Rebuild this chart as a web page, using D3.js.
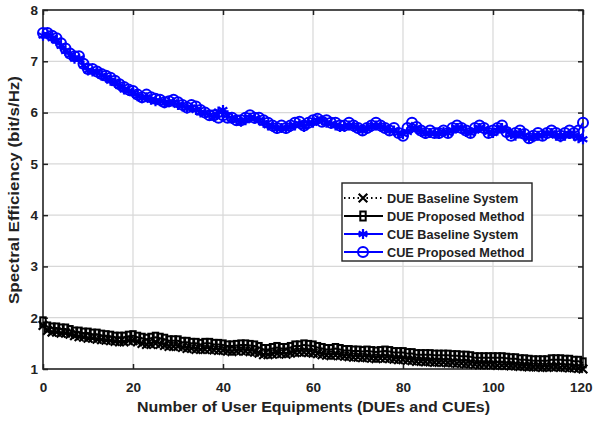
<!DOCTYPE html>
<html>
<head>
<meta charset="utf-8">
<script src="https://cdn.jsdelivr.net/npm/d3@7"></script>
<style>
  body { margin: 0; background: #fff; }
  text { font-family: "Liberation Sans", Arial, sans-serif; font-weight: bold; fill: #222; }
</style>
</head>
<body>
<div id="chart"></div>
<script>
// x values: number of UEs 0..120
const ueCounts = d3.range(0, 121);

const cueProposed = [
  7.55,7.55,7.5,7.45,7.35,7.25,7.15,7.1,7.1,6.95,
  6.85,6.85,6.8,6.75,6.72,6.68,6.62,6.55,6.5,6.45,
  6.42,6.35,6.3,6.35,6.3,6.27,6.25,6.2,6.22,6.25,
  6.2,6.15,6.1,6.15,6.12,6.05,6.0,5.95,5.95,5.9,
  5.95,5.9,5.9,5.85,5.85,5.9,5.95,5.9,5.9,5.85,
  5.8,5.75,5.7,5.75,5.7,5.75,5.8,5.82,5.75,5.8,
  5.85,5.88,5.82,5.85,5.8,5.8,5.75,5.75,5.8,5.75,
  5.7,5.65,5.7,5.75,5.8,5.75,5.7,5.65,5.7,5.6,
  5.55,5.7,5.8,5.72,5.65,5.6,5.65,5.6,5.6,5.65,
  5.6,5.7,5.75,5.7,5.65,5.6,5.7,5.75,5.7,5.6,
  5.65,5.7,5.75,5.62,5.55,5.6,5.65,5.58,5.5,5.55,
  5.6,5.55,5.6,5.65,5.6,5.55,5.6,5.65,5.6,5.65,
  5.8
];

const cueBaseline = [
  7.5,7.52,7.45,7.4,7.3,7.2,7.12,7.05,7.05,6.92,
  6.82,6.8,6.78,6.72,6.68,6.62,6.58,6.52,6.45,6.42,
  6.38,6.32,6.28,6.3,6.25,6.22,6.22,6.18,6.2,6.2,
  6.15,6.12,6.08,6.1,6.05,6.0,5.98,5.95,5.92,6.02,
  6.05,5.95,5.88,5.85,5.82,5.85,5.9,5.88,5.85,5.8,
  5.75,5.72,5.68,5.7,5.68,5.72,5.75,5.78,5.72,5.78,
  5.8,5.85,5.85,5.8,5.78,5.75,5.72,5.72,5.75,5.72,
  5.68,5.65,5.68,5.72,5.75,5.72,5.68,5.65,5.65,5.6,
  5.58,5.62,5.7,5.68,5.62,5.58,5.6,5.6,5.58,5.62,
  5.6,5.65,5.7,5.68,5.62,5.6,5.65,5.7,5.68,5.62,
  5.6,5.65,5.7,5.65,5.58,5.55,5.6,5.55,5.5,5.52,
  5.55,5.55,5.58,5.6,5.55,5.52,5.55,5.58,5.55,5.5,
  5.48
];

const dueProposed = [
  1.92,1.82,1.8,1.8,1.78,1.78,1.75,1.72,1.72,1.7,
  1.7,1.68,1.68,1.66,1.65,1.64,1.62,1.62,1.62,1.64,
  1.65,1.62,1.6,1.58,1.6,1.62,1.6,1.58,1.55,1.55,
  1.55,1.52,1.52,1.5,1.5,1.48,1.5,1.5,1.48,1.48,
  1.47,1.45,1.45,1.46,1.47,1.47,1.46,1.45,1.42,1.38,
  1.38,1.4,1.42,1.4,1.4,1.42,1.45,1.45,1.47,1.46,
  1.45,1.42,1.4,1.38,1.38,1.4,1.38,1.36,1.36,1.35,
  1.35,1.34,1.35,1.34,1.33,1.34,1.35,1.34,1.32,1.32,
  1.32,1.3,1.3,1.28,1.28,1.28,1.28,1.27,1.27,1.27,
  1.27,1.26,1.26,1.25,1.25,1.24,1.22,1.22,1.22,1.22,
  1.22,1.22,1.22,1.21,1.2,1.2,1.18,1.18,1.17,1.16,
  1.16,1.16,1.16,1.18,1.18,1.18,1.17,1.17,1.15,1.15,
  1.12
];

const dueBaseline = [
  1.85,1.75,1.72,1.72,1.7,1.7,1.68,1.65,1.63,1.62,
  1.6,1.6,1.58,1.57,1.56,1.55,1.54,1.53,1.53,1.55,
  1.55,1.53,1.5,1.48,1.48,1.5,1.48,1.46,1.44,1.44,
  1.44,1.42,1.4,1.4,1.38,1.38,1.38,1.38,1.37,1.36,
  1.36,1.35,1.34,1.35,1.36,1.35,1.34,1.33,1.31,1.28,
  1.28,1.29,1.3,1.3,1.29,1.31,1.32,1.33,1.33,1.32,
  1.31,1.3,1.28,1.27,1.26,1.27,1.26,1.25,1.24,1.23,
  1.23,1.22,1.22,1.21,1.2,1.21,1.21,1.2,1.19,1.18,
  1.18,1.17,1.16,1.15,1.15,1.14,1.14,1.13,1.13,1.13,
  1.12,1.12,1.11,1.11,1.1,1.1,1.09,1.08,1.08,1.08,
  1.08,1.07,1.07,1.07,1.06,1.06,1.05,1.05,1.04,1.04,
  1.04,1.03,1.03,1.04,1.04,1.03,1.03,1.02,1.02,1.01,
  1.0
];

const xTicks = [0, 20, 40, 60, 80, 100, 120];
const yTicks = [1, 2, 3, 4, 5, 6, 7, 8];

const seriesNames = ["DUE Baseline System", "DUE Proposed Method", "CUE Baseline System", "CUE Proposed Method"];

const series = [
  {name: seriesNames[0], values: dueBaseline, color: "#000", dash: "1.5,3", marker: "x"},
  {name: seriesNames[1], values: dueProposed, color: "#000", dash: null, marker: "square"},
  {name: seriesNames[2], values: cueBaseline, color: "#0000ff", dash: null, marker: "star"},
  {name: seriesNames[3], values: cueProposed, color: "#0000ff", dash: null, marker: "circle"}
];

const size = {width: 593, height: 423};
const margin = {top: 10, right: 10, bottom: 54, left: 43};
const width = size.width - margin.left - margin.right;
const height = size.height - margin.top - margin.bottom;

const svg = d3.select("#chart").append("svg")
  .attr("width", size.width)
  .attr("height", size.height);

const g = svg.append("g")
  .attr("transform", "translate(" + margin.left + "," + margin.top + ")");

const xScale = d3.scaleLinear().domain([0, 120]).range([0, width]);
const yScale = d3.scaleLinear().domain([1, 8]).range([height, 0]);

// grid
g.append("g").selectAll("line").data(xTicks.slice(1, -1)).join("line")
  .attr("x1", d => xScale(d)).attr("x2", d => xScale(d))
  .attr("y1", 0).attr("y2", height)
  .attr("stroke", "#d8d8d8").attr("stroke-width", 1.2);
g.append("g").selectAll("line").data(yTicks.slice(1, -1)).join("line")
  .attr("x1", 0).attr("x2", width)
  .attr("y1", d => yScale(d)).attr("y2", d => yScale(d))
  .attr("stroke", "#d8d8d8").attr("stroke-width", 1.2);

// axes, ticks inside (matlab style box)
const tickLen = 5;
const axisStyle = (sel) => {
  sel.select(".domain").remove();
  sel.selectAll(".tick line").attr("stroke", "#222").attr("stroke-width", 1.5);
  sel.selectAll(".tick text")
    .style("font-size", "13.5px").style("font-weight", "bold")
    .style("font-family", "'Liberation Sans', Arial, sans-serif").attr("fill", "#222");
};

const xAxisG = g.append("g").attr("transform", "translate(0," + height + ")")
  .call(d3.axisBottom(xScale).tickValues(xTicks).tickFormat(d3.format("d"))
    .tickSizeInner(-tickLen).tickSizeOuter(0).tickPadding(13))
  .call(axisStyle);
// last label sits at the window edge, keep it inside
xAxisG.selectAll(".tick text").filter(d => d === 120)
  .attr("text-anchor", "end").attr("x", 9);

g.append("g")
  .call(d3.axisLeft(yScale).tickValues(yTicks).tickFormat(d3.format("d"))
    .tickSizeInner(-tickLen).tickSizeOuter(0).tickPadding(5))
  .call(axisStyle);
g.append("g")
  .call(d3.axisTop(xScale).tickValues(xTicks).tickSizeInner(-tickLen).tickSizeOuter(0).tickFormat(""))
  .call(axisStyle);
g.append("g").attr("transform", "translate(" + width + ",0)")
  .call(d3.axisRight(yScale).tickValues(yTicks).tickSizeInner(-tickLen).tickSizeOuter(0).tickFormat(""))
  .call(axisStyle);

g.append("rect")
  .attr("width", width).attr("height", height)
  .attr("fill", "none").attr("stroke", "#222").attr("stroke-width", 1.6);

// markers
const drawMarker = (sel, marker, color) => {
  if (marker === "circle") {
    sel.append("circle").attr("r", 5)
      .attr("fill", "none").attr("stroke", color).attr("stroke-width", 2);
  } else if (marker === "square") {
    sel.append("rect").attr("x", -2.7).attr("y", -4.5).attr("width", 5.4).attr("height", 9)
      .attr("fill", "none").attr("stroke", color).attr("stroke-width", 2);
  } else if (marker === "star") {
    sel.append("path").attr("d", d3.symbol().type(d3.symbolAsterisk).size(70)())
      .attr("fill", "none").attr("stroke", color).attr("stroke-width", 2.2);
  } else if (marker === "x") {
    sel.append("path").attr("d", d3.symbol().type(d3.symbolX).size(50)())
      .attr("fill", "none").attr("stroke", color).attr("stroke-width", 2.2);
  }
};

const line = d3.line()
  .x((d, i) => xScale(ueCounts[i]))
  .y(d => yScale(d));

const plotG = g.append("g");
series.forEach(s => {
  plotG.append("path")
    .datum(s.values)
    .attr("d", line)
    .attr("fill", "none")
    .attr("stroke", s.color)
    .attr("stroke-width", 2)
    .attr("stroke-dasharray", s.dash);

  plotG.append("g").selectAll("g")
    .data(s.values)
    .join("g")
    .attr("transform", (d, i) => "translate(" + xScale(ueCounts[i]) + "," + yScale(d) + ")")
    .each(function () { drawMarker(d3.select(this), s.marker, s.color); });
});

// legend
const legend = svg.append("g").attr("transform", "translate(342,183)");
legend.append("rect")
  .attr("width", 190).attr("height", 78)
  .attr("fill", "#fff").attr("stroke", "#222").attr("stroke-width", 1.4);
series.forEach((s, i) => {
  const row = legend.append("g").attr("transform", "translate(0," + (15 + i * 18) + ")");
  row.append("line")
    .attr("x1", 2).attr("x2", 41)
    .attr("stroke", s.color).attr("stroke-width", 2.2)
    .attr("stroke-dasharray", s.dash);
  drawMarker(row.append("g").attr("transform", "translate(21,0)"), s.marker, s.color);
  row.append("text")
    .attr("x", 45).attr("dy", "0.36em")
    .style("font-size", "12.7px")
    .text(s.name);
});

// axis titles
svg.append("text")
  .attr("x", 313.5)
  .attr("y", 412)
  .attr("text-anchor", "middle")
  .attr("textLength", 353)
  .attr("lengthAdjust", "spacingAndGlyphs")
  .style("font-size", "15px")
  .text("Number of User Equipments (DUEs and CUEs)");

svg.append("text")
  .attr("transform", "translate(19,190) rotate(-90)")
  .attr("text-anchor", "middle")
  .attr("textLength", 228)
  .attr("lengthAdjust", "spacingAndGlyphs")
  .style("font-size", "15px")
  .text("Spectral Efficiency (bit/s/Hz)");
</script>
</body>
</html>
